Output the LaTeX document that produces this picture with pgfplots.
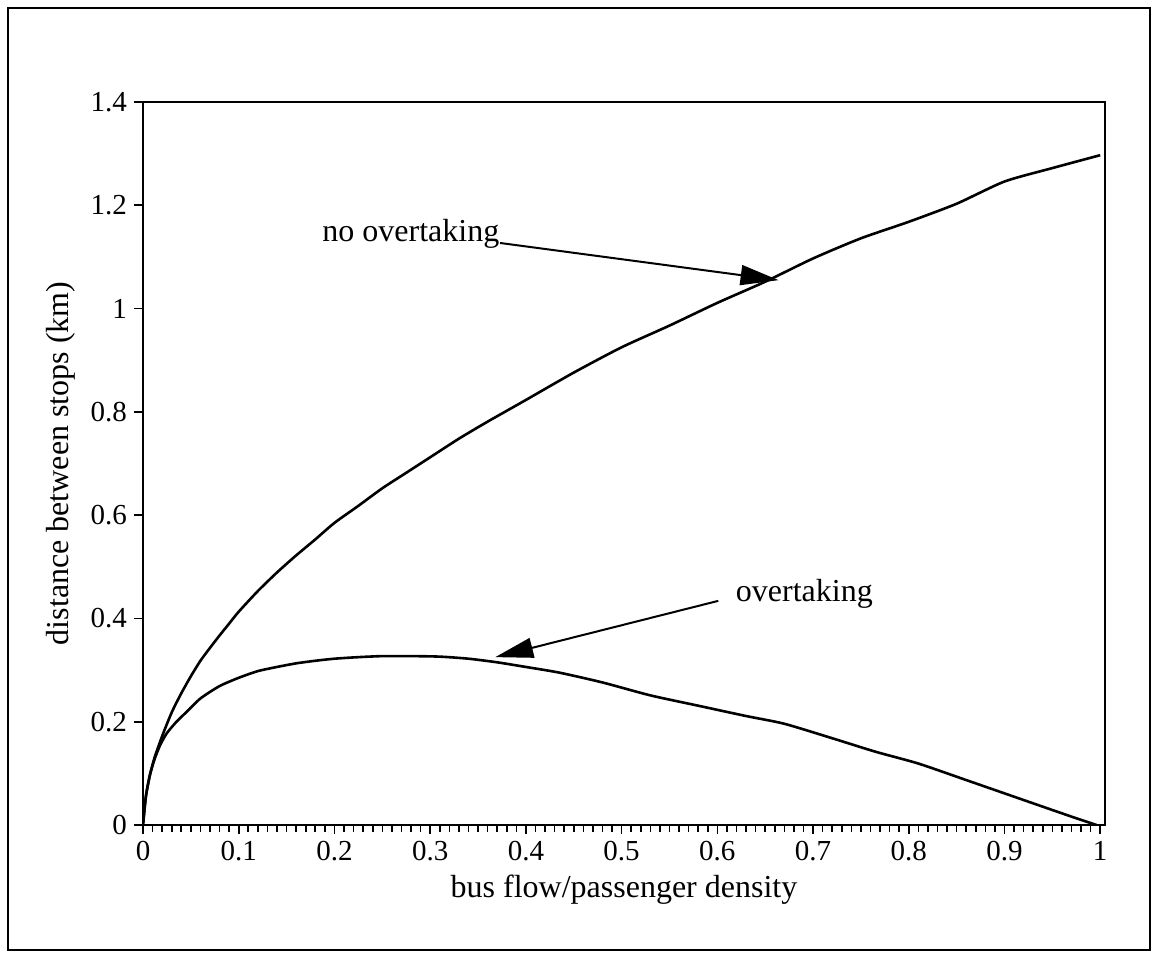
\documentclass[border=0pt]{standalone}
\usepackage{fontspec}
\setmainfont{Liberation Serif}
\usepackage{pgfplots}
\pgfplotsset{compat=1.18}
\usetikzlibrary{arrows.meta}
\begin{document}
\begin{tikzpicture}
\useasboundingbox (0pt,0pt) rectangle (578.5pt,478pt);
\draw[line width=1pt] (4pt,3pt) rectangle (575pt,474pt);
\begin{axis}[
  at={(71.5pt,65.5pt)}, anchor=south west,
  scale only axis, width=481pt, height=361.5pt,
  xmin=0, xmax=1.005, ymin=0, ymax=1.4,
  xtick={0,0.1,0.2,0.3,0.4,0.5,0.6,0.7,0.8,0.9,1},
  minor x tick num=9,
  ytick={0,0.2,0.4,0.6,0.8,1,1.2,1.4},
  xtick pos=left, ytick pos=left,
  tick align=outside,
  major tick length=4.5pt, minor tick length=3.5pt,
  tick style={line width=0.8pt, black},
  axis line style={line width=1.3pt},
  /pgf/number format/assume math mode=true,
  /pgf/number format/fixed,
  ticklabel style={font=\fontsize{14.5}{16}\selectfont},
  xlabel={bus flow/passenger density},
  ylabel={distance between stops (km)},
  label style={font=\fontsize{16}{18}\selectfont},
  xlabel style={at={(axis description cs:0.5,-0.069)}, anchor=north, inner sep=0pt},
  ylabel style={at={(axis description cs:-0.085,0.5)}, anchor=center, inner sep=0pt},
]
\addplot[black, line width=1.3pt, smooth, tension=0.4] coordinates {
(0,0) (0.003,0.055) (0.007,0.095) (0.012,0.13) (0.02,0.172) (0.03,0.218)
(0.04,0.255) (0.05,0.288) (0.06,0.318) (0.07,0.343) (0.08,0.367) (0.09,0.39)
(0.1,0.413) (0.12,0.453) (0.14,0.489) (0.16,0.522) (0.18,0.553) (0.2,0.585)
(0.225,0.618) (0.25,0.652) (0.275,0.682) (0.3,0.712) (0.33,0.748)
(0.36,0.781) (0.4,0.823) (0.45,0.876) (0.5,0.925) (0.55,0.967)
(0.6,1.011) (0.65,1.052) (0.7,1.097) (0.75,1.136) (0.8,1.168)
(0.85,1.203) (0.9,1.246) (0.95,1.272) (1.0,1.297)
};
\addplot[black, line width=1.3pt, smooth, tension=0.4] coordinates {
(0,0) (0.003,0.055) (0.007,0.095) (0.012,0.127) (0.018,0.155) (0.025,0.178)
(0.035,0.2) (0.045,0.218) (0.06,0.245) (0.08,0.269) (0.1,0.285)
(0.12,0.298) (0.14,0.306) (0.16,0.313) (0.18,0.318) (0.2,0.322)
(0.225,0.325) (0.25,0.327) (0.28,0.327) (0.31,0.326) (0.34,0.322)
(0.37,0.315) (0.4,0.306) (0.435,0.295) (0.48,0.276) (0.53,0.251)
(0.58,0.231) (0.63,0.211) (0.67,0.196) (0.72,0.168) (0.765,0.142)
(0.81,0.119) (0.86,0.087) (0.905,0.058) (0.95,0.029) (0.975,0.013) (0.996,0.0)
};
\node[anchor=base west, inner sep=0pt, font=\fontsize{16}{18}\selectfont] at (axis cs:0.187,1.129) {no overtaking};
\draw[line width=1pt, -{Triangle[length=19pt,width=10pt]}] (axis cs:0.373,1.127) -- (axis cs:0.664,1.055);
\node[anchor=base west, inner sep=0pt, font=\fontsize{16}{18}\selectfont] at (axis cs:0.619,0.432) {overtaking};
\draw[line width=1pt, -{Triangle[length=19pt,width=10pt]}] (axis cs:0.601,0.434) -- (axis cs:0.368,0.325);
\end{axis}
\end{tikzpicture}
\end{document}
